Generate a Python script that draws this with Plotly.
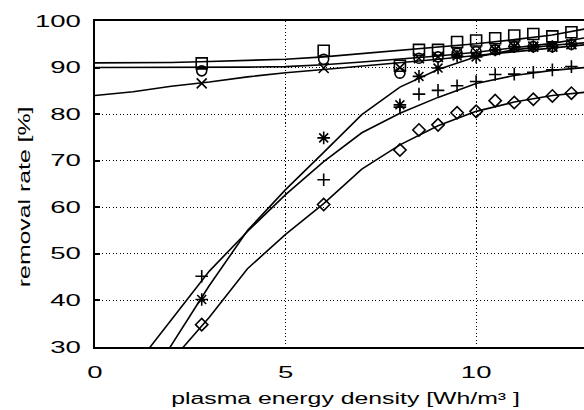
import plotly.graph_objects as go

# measured data
x_meas = [2.8, 6, 8, 8.5, 9, 9.5, 10, 10.5, 11, 11.5, 12, 12.5]
sq = [90.9, 93.6, 90.4, 93.8, 93.8, 95.5, 95.8, 96.3, 96.9, 97.2, 96.7, 97.6]
circ = [89.3, 91.8, 88.8, 92.0, 92.3, 93.1, 93.4, 93.8, 94.5, 94.5, 94.5, 95.0]
xmk = [86.6, 89.9, 90.0, 92.0, 92.3, 93.1, 93.4, 93.8, 94.5, 94.5, 94.5, 95.0]
ast = [40.2, 74.9, 82.0, 88.1, 89.9, 92.5, 92.3, 93.8, 94.5, 94.5, 94.5, 95.0]
plus = [45.2, 65.9, 81.5, 84.3, 85.1, 86.1, 87.0, 88.5, 88.6, 89.0, 89.5, 90.2]
dia = [34.8, 60.6, 72.3, 76.6, 77.7, 80.3, 80.6, 82.9, 82.5, 83.2, 83.9, 84.5]

# fitted curves
x_fit_flat = [0, 1, 2, 3, 4, 5, 6, 7, 8, 9, 10, 11, 12, 13]
fit_sq = [91.0, 91.0, 91.1, 91.3, 91.5, 91.8, 92.3, 93.0, 93.6, 94.3, 95.1, 96.0, 97.0, 98.5]
fit_circ = [90.0, 90.0, 90.0, 90.0, 90.1, 90.2, 90.6, 91.2, 91.8, 92.5, 93.3, 94.2, 95.2, 96.6]
fit_x = [84.0, 84.8, 86.0, 86.9, 88.0, 88.9, 89.6, 90.3, 91.0, 91.8, 92.6, 93.4, 94.2, 95.0]
x_fit_steep = [1, 2, 3, 4, 5, 6, 7, 8, 9, 10, 11, 12, 13]
fit_ast = [17.5, 30.4, 43.2, 55.0, 63.8, 71.8, 79.9, 85.8, 89.6, 92.3, 93.8, 94.8, 95.4]
fit_plus = [25.3, 35.7, 46.3, 54.8, 62.7, 69.8, 76.0, 80.2, 83.6, 86.6, 88.3, 89.4, 90.1]
fit_dia = [14.5, 27.0, 36.4, 46.8, 54.2, 60.8, 68.2, 73.4, 77.5, 80.6, 82.6, 84.0, 84.8]

x_ticks = [0, 5, 10]
y_ticks = [30, 40, 50, 60, 70, 80, 90, 100]
x_title = "plasma energy density [Wh/m³ ]"
y_title = "removal rate [%]"

fig = go.Figure()

line_style = dict(color="black", width=1.6)
for xs_, ys_ in [(x_fit_flat, fit_sq), (x_fit_flat, fit_circ), (x_fit_flat, fit_x),
                 (x_fit_steep, fit_ast), (x_fit_steep, fit_plus), (x_fit_steep, fit_dia)]:
    fig.add_trace(go.Scatter(x=xs_, y=ys_, mode="lines", line=line_style,
                             showlegend=False, hoverinfo="skip"))

markers = [
    (sq, "square-open", 11),
    (circ, "circle-open", 10),
    (xmk, "x-thin-open", 10),
    (ast, "asterisk-open", 10.5),
    (plus, "cross-thin-open", 9),
    (dia, "diamond-open", 9.5),
]
for ys_, sym, size in markers:
    fig.add_trace(go.Scatter(x=x_meas, y=ys_, mode="markers",
                             marker=dict(symbol=sym, size=size, color="black",
                                         line=dict(color="black", width=1.6)),
                             showlegend=False, cliponaxis=False))

font = dict(family="Liberation Sans, Arial, sans-serif", size=16, color="black")

fig.update_layout(
    width=584, height=410,
    margin=dict(l=95, r=0, t=21, b=63),
    paper_bgcolor="white", plot_bgcolor="white",
    font=font,
    xaxis=dict(
        range=[0, 12.83], tickvals=x_ticks, ticktext=[str(v) for v in x_ticks],
        showline=True, linecolor="black", linewidth=2, mirror=True,
        showgrid=True, gridcolor="black", gridwidth=1.3, griddash="1.3px,2.2px",
        ticks="", ticklabelstandoff=10, zeroline=False,
        tickfont=font,
    ),
    yaxis=dict(
        range=[30, 100], tickvals=y_ticks, ticktext=[str(v) for v in y_ticks],
        showline=True, linecolor="black", linewidth=2, mirror=False,
        showgrid=True, gridcolor="black", gridwidth=1.3, griddash="1.3px,2.2px",
        ticks="inside", ticklen=5, tickwidth=1.5, tickcolor="black",
        ticklabelstandoff=9, zeroline=False,
        tickfont=font,
    ),
    annotations=[
        dict(text=x_title, xref="paper", yref="paper", x=0.513, y=-0.158,
             xanchor="center", yanchor="middle", showarrow=False, font=font),
        dict(text=y_title, xref="paper", yref="paper", x=-0.145, y=0.46,
             xanchor="center", yanchor="middle", textangle=-90, showarrow=False, font=font),
    ],
)

post = """
var gd = document.getElementById('{plot_id}');
function stretchAll(sel, f){
  gd.querySelectorAll(sel).forEach(function(t){
    var L = t.getComputedTextLength();
    if (L > 0) {
      t.setAttribute('lengthAdjust', 'spacingAndGlyphs');
      t.setAttribute('textLength', (L * f).toFixed(1));
    }
  });
}
stretchAll('g.xtick text, g.ytick text', 1.72);
stretchAll('text.annotation-text', 1.55);
"""

fig.write_html("out.html", post_script=post)
